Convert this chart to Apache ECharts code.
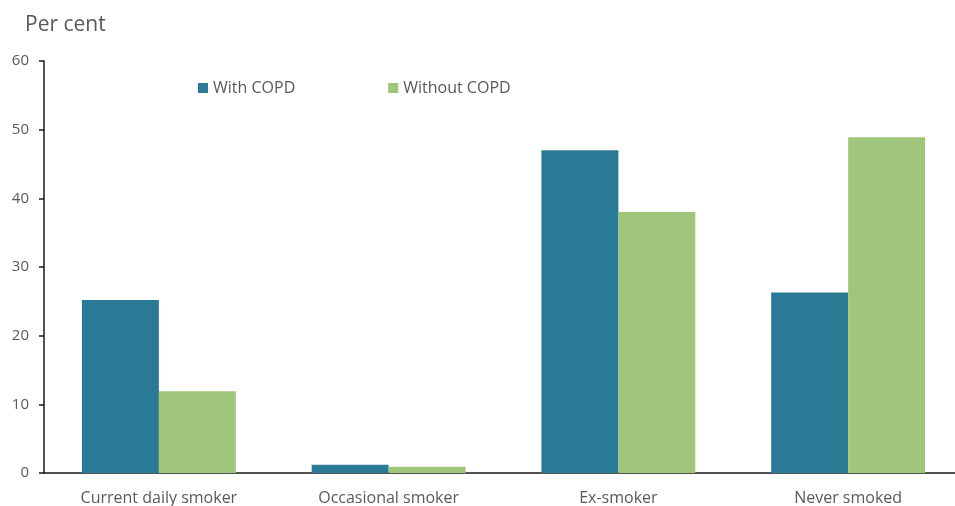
<!DOCTYPE html>
<html>
<head>
<meta charset="utf-8">
<script src="https://cdn.jsdelivr.net/npm/echarts@6/dist/echarts.min.js"></script>
<style>
  html, body { margin: 0; padding: 0; background: #fff; }
  #chart { width: 955px; height: 506px; }
</style>
</head>
<body>
<div id="chart"></div>
<script>
// ---------- data ----------
const categories = ['Current daily smoker', 'Occasional smoker', 'Ex-smoker', 'Never smoked'];
const withCopd = [25.2, 1.2, 47.0, 26.3];
const withoutCopd = [11.9, 0.9, 38.0, 48.9];
const yTicks = { min: 0, max: 60, interval: 10 };

const FONT = '"Open Sans", "Noto Sans", sans-serif';
const TEXT = '#595959';

const chart = echarts.init(document.getElementById('chart'), null, { renderer: 'canvas' });

chart.setOption({
  backgroundColor: '#fff',
  animation: false,
  title: {
    text: 'Per cent',
    left: 20,
    top: 10,
    textStyle: { fontFamily: FONT, fontSize: 21, fontWeight: 'normal', color: TEXT },
  },
  legend: {
    left: 193,
    top: 75,
    itemWidth: 10,
    itemHeight: 10,
    itemGap: 93,
    icon: 'rect',
    textStyle: { fontFamily: FONT, fontSize: 16, color: TEXT },
    data: ['With COPD', 'Without COPD'],
  },
  // the x axis runs a little past the right edge of the picture
  grid: { left: 44, top: 61, width: 919, height: 412, containLabel: false, outerBoundsMode: 'none' },
  xAxis: {
    type: 'category',
    data: categories,
    axisLine: { lineStyle: { color: '#1a1a1a', width: 1.5 } },
    axisTick: { show: false },
    axisLabel: { fontFamily: FONT, fontSize: 16, color: TEXT, margin: 17 },
  },
  yAxis: {
    type: 'value',
    min: yTicks.min,
    max: yTicks.max,
    interval: yTicks.interval,
    splitLine: { show: false },
    axisLine: { show: true, lineStyle: { color: '#1a1a1a', width: 1.5 } },
    axisTick: { show: true, length: 5, lineStyle: { color: '#1a1a1a', width: 1.5 } },
    axisLabel: { fontFamily: FONT, fontSize: 15, color: TEXT, margin: 15 },
  },
  series: [
    {
      name: 'With COPD',
      type: 'bar',
      data: withCopd,
      itemStyle: { color: '#2b7a95' },
      barGap: '0%',
      barCategoryGap: '33%',
    },
    {
      name: 'Without COPD',
      type: 'bar',
      data: withoutCopd,
      itemStyle: { color: '#a0c67b' },
      barGap: '0%',
      barCategoryGap: '33%',
    },
  ],
});
</script>
</body>
</html>
